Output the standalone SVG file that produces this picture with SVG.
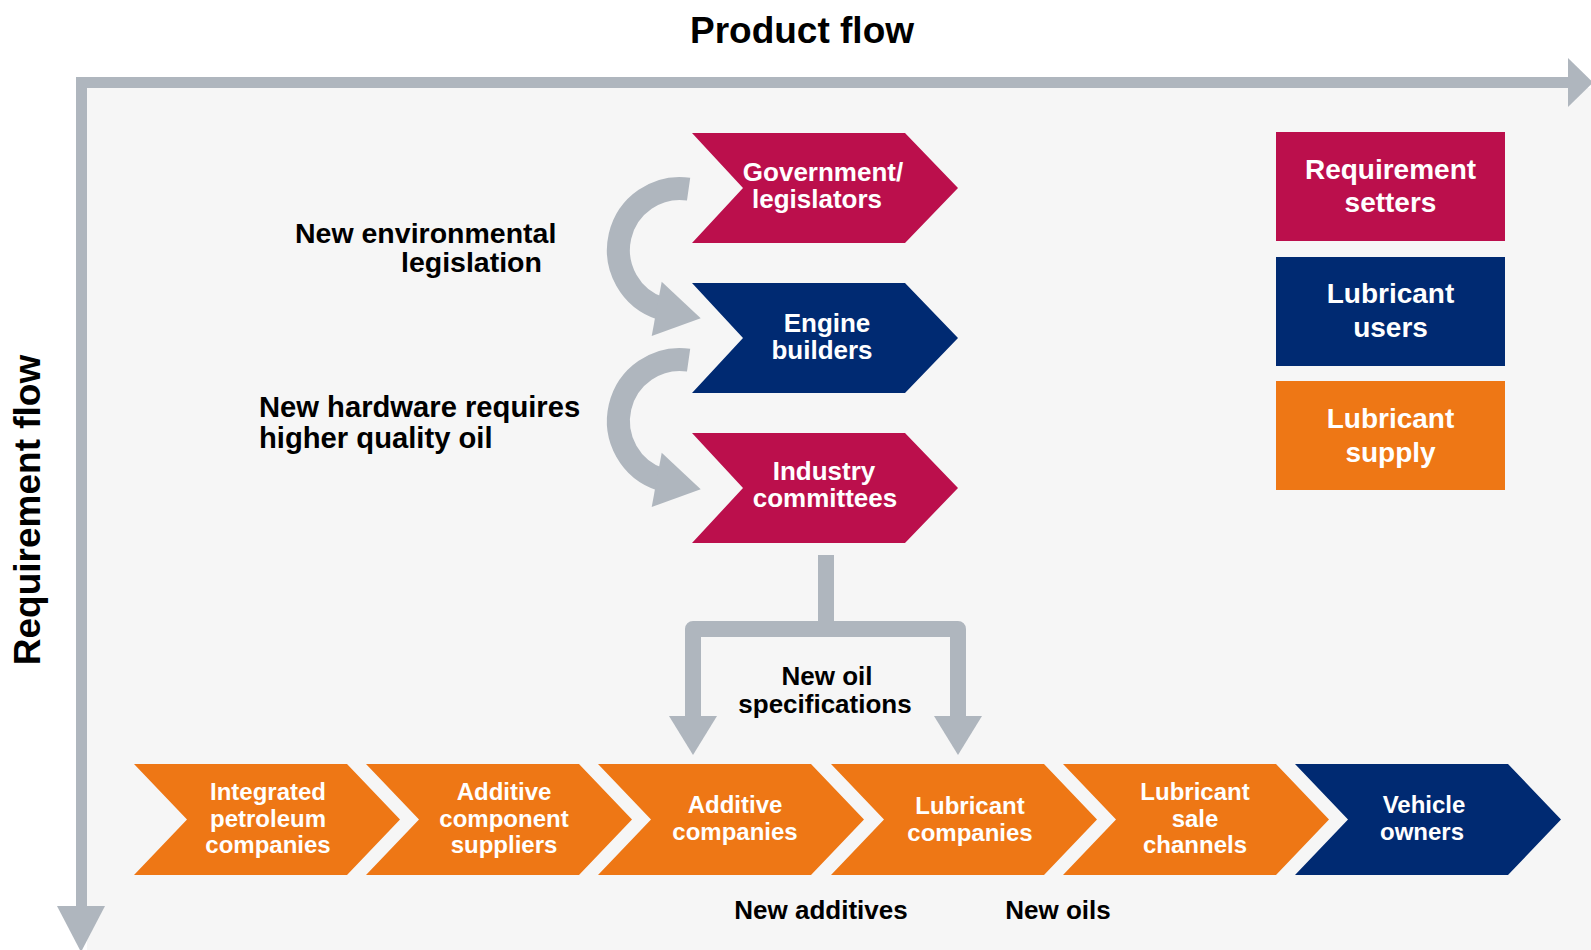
<svg xmlns="http://www.w3.org/2000/svg" width="1591" height="950" viewBox="0 0 1591 950">
<style>
text{font-family:"Liberation Sans",Arial,sans-serif;font-weight:bold}
.title{font-size:37px;fill:#000;text-anchor:middle}
.lbl{font-size:28.5px;fill:#000}
.lbl2{font-size:29.2px;fill:#000}
.n1{font-size:26px;fill:#fff;text-anchor:middle}
.lg{font-size:28px;fill:#fff;text-anchor:middle}
.n2{font-size:24px;fill:#fff;text-anchor:middle}
.sm{font-size:26px;fill:#000;text-anchor:middle}
.red{fill:#BB0F4C}
.blue{fill:#002A72}
.org{fill:#EE7715}
.gr{fill:#AFB6BE}
.grs{fill:none;stroke:#AFB6BE}
</style>
<defs>
<polygon id="chevTop" points="0,0 213,0 266,55 213,110 0,110 51,55"/>
<polygon id="chevBot" points="0,0 213,0 266,55.5 213,111 0,111 53,55.5"/>
<g id="curve">
<path class="grs" stroke-width="23" d="M688.6,189.1 A61.5,61.5 0 0 0 661,308.5"/>
<polygon class="gr" points="661.7,281.7 651.7,336 700.7,318.3"/>
</g>
</defs>
<rect x="0" y="0" width="1591" height="950" fill="#fff"/>
<rect x="87" y="88" width="1504" height="862" fill="#F6F6F6"/>

<g id="axes">
<rect class="gr" x="76" y="77" width="1494" height="11"/>
<polygon class="gr" points="1568,58 1593,82.5 1568,107"/>
<rect class="gr" x="76" y="77" width="11" height="832"/>
<polygon class="gr" points="57,906 105,906 81,952"/>
<text class="title" x="802" y="43">Product flow</text>
<text class="title" transform="translate(40,510) rotate(-90)" x="0" y="0">Requirement flow</text>
</g>

<g id="connectors">
<use href="#curve"/>
<use href="#curve" transform="translate(0,171)"/>
<path class="grs" stroke-width="16" stroke-linejoin="round" d="M826,555 V629 M693,720 V629 H958 V720"/>
<polygon class="gr" points="669,716 717,716 693,755"/>
<polygon class="gr" points="934,716 982,716 958,755"/>
</g>

<g id="label-env">
<text class="lbl" x="295" y="243">New environmental</text>
<text class="lbl" x="401" y="272">legislation</text>
</g>
<g id="label-hw">
<text class="lbl2" x="259" y="417">New hardware requires</text>
<text class="lbl2" x="259" y="448">higher quality oil</text>
</g>
<g id="label-spec">
<text class="sm" x="827" y="685">New oil</text>
<text class="sm" x="825" y="713">specifications</text>
</g>
<g id="label-additives"><text class="sm" x="821" y="919">New additives</text></g>
<g id="label-oils"><text class="sm" x="1058" y="919">New oils</text></g>

<g id="government">
<use href="#chevTop" class="red" x="692" y="133"/>
<text class="n1" x="823" y="181">Government/</text>
<text class="n1" x="817" y="208">legislators</text>
</g>
<g id="engine">
<use href="#chevTop" class="blue" x="692" y="283"/>
<text class="n1" x="827" y="332">Engine</text>
<text class="n1" x="822" y="359">builders</text>
</g>
<g id="industry">
<use href="#chevTop" class="red" x="692" y="433"/>
<text class="n1" x="824" y="480">Industry</text>
<text class="n1" x="825" y="507">committees</text>
</g>

<g id="legend-setters">
<rect class="red" x="1276" y="132" width="229" height="109"/>
<text class="lg" x="1390.5" y="179">Requirement</text>
<text class="lg" x="1390.5" y="212">setters</text>
</g>
<g id="legend-users">
<rect class="blue" x="1276" y="257" width="229" height="109"/>
<text class="lg" x="1390.5" y="303">Lubricant</text>
<text class="lg" x="1390.5" y="337">users</text>
</g>
<g id="legend-supply">
<rect class="org" x="1276" y="381" width="229" height="109"/>
<text class="lg" x="1390.5" y="428">Lubricant</text>
<text class="lg" x="1390.5" y="462">supply</text>
</g>

<g id="integrated">
<use href="#chevBot" class="org" x="134" y="764"/>
<text class="n2" x="268" y="800">Integrated</text>
<text class="n2" x="268" y="827">petroleum</text>
<text class="n2" x="268" y="853">companies</text>
</g>
<g id="additive-suppliers">
<use href="#chevBot" class="org" x="366" y="764"/>
<text class="n2" x="504" y="800">Additive</text>
<text class="n2" x="504" y="827">component</text>
<text class="n2" x="504" y="853">suppliers</text>
</g>
<g id="additive-companies">
<use href="#chevBot" class="org" x="598" y="764"/>
<text class="n2" x="735" y="813">Additive</text>
<text class="n2" x="735" y="840">companies</text>
</g>
<g id="lubricant-companies">
<use href="#chevBot" class="org" x="831" y="764"/>
<text class="n2" x="970" y="814">Lubricant</text>
<text class="n2" x="970" y="841">companies</text>
</g>
<g id="sale-channels">
<use href="#chevBot" class="org" x="1063" y="764"/>
<text class="n2" x="1195" y="800">Lubricant</text>
<text class="n2" x="1195" y="827">sale</text>
<text class="n2" x="1195" y="853">channels</text>
</g>
<g id="vehicle-owners">
<use href="#chevBot" class="blue" x="1295" y="764"/>
<text class="n2" x="1424" y="813">Vehicle</text>
<text class="n2" x="1422" y="840">owners</text>
</g>
</svg>
